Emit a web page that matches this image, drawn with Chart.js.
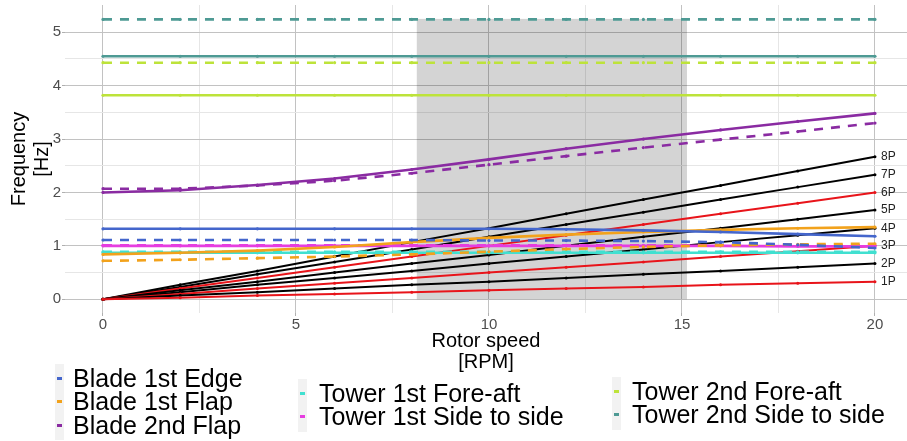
<!DOCTYPE html>
<html>
<head>
<meta charset="utf-8">
<script src="https://cdn.jsdelivr.net/npm/chart.js@4.4.1/dist/chart.umd.min.js"></script>
<style>
    html, body { margin: 0; padding: 0; background: #fff; }
    #wrap { position: relative; width: 907px; height: 441px; overflow: hidden; }
    #chart { position: absolute; left: 0; top: 0; }
    .lg { position: absolute; font-family: "Liberation Sans", Arial, sans-serif; font-size: 25px; color: #000; white-space: nowrap; }
</style>
</head>
<body>
<div id="wrap">
    <canvas id="chart" width="907" height="441"></canvas>
    <div id="legend"></div>
</div>
<script>
// rotor speed samples (RPM)
const rpm = [0, 2, 4, 6, 8, 10, 12, 14, 16, 18, 20];

const modeNames = ["Blade 1st Edge", "Blade 1st Flap", "Blade 2nd Flap", "Tower 1st Fore-aft", "Tower 1st Side to side", "Tower 2nd Fore-aft", "Tower 2nd Side to side"];

// natural frequencies [Hz], solid = case A, dashed = case B
const edge1 = [1.32, 1.32, 1.32, 1.32, 1.32, 1.32, 1.31, 1.29, 1.26, 1.22, 1.18];
const edge1B = [1.11, 1.11, 1.11, 1.11, 1.11, 1.10, 1.10, 1.09, 1.07, 1.02, 0.96];
const flap1 = [0.84, 0.87, 0.91, 0.98, 1.07, 1.15, 1.21, 1.26, 1.30, 1.33, 1.35];
const flap1B = [0.72, 0.74, 0.77, 0.80, 0.84, 0.89, 0.94, 0.98, 1.01, 1.03, 1.04];
const flap2 = [2.00, 2.04, 2.14, 2.26, 2.43, 2.62, 2.82, 3.00, 3.17, 3.33, 3.48];
const flap2B = [2.07, 2.07, 2.13, 2.22, 2.36, 2.52, 2.68, 2.84, 2.99, 3.14, 3.30];
const towerFa1 = [0.87, 0.87, 0.87, 0.87, 0.87, 0.87, 0.87, 0.87, 0.87, 0.87, 0.87];
const towerFa1B = [0.89, 0.89, 0.89, 0.89, 0.89, 0.89, 0.89, 0.89, 0.89, 0.89, 0.89];
const towerSs1 = [1.00, 1.00, 1.00, 1.00, 1.00, 1.00, 1.00, 1.00, 1.00, 0.99, 0.99];
const towerSs1B = [1.01, 1.01, 1.01, 1.01, 1.01, 1.01, 1.01, 1.01, 1.01, 1.01, 1.01];
const towerFa2 = [3.82, 3.82, 3.82, 3.82, 3.82, 3.82, 3.82, 3.82, 3.82, 3.82, 3.82];
const towerFa2B = [4.43, 4.43, 4.43, 4.43, 4.43, 4.43, 4.43, 4.43, 4.43, 4.43, 4.43];
const towerSs2 = [4.55, 4.55, 4.55, 4.55, 4.55, 4.55, 4.55, 4.55, 4.55, 4.55, 4.55];
const towerSs2B = [5.24, 5.24, 5.24, 5.24, 5.24, 5.24, 5.24, 5.24, 5.24, 5.24, 5.24];

// rotor harmonics
const harmonicNames = ["1P", "2P", "3P", "4P", "5P", "6P", "7P", "8P"];
const p1 = [0, 0.03, 0.07, 0.10, 0.13, 0.17, 0.20, 0.23, 0.27, 0.30, 0.33];
const p2 = [0, 0.07, 0.13, 0.20, 0.27, 0.33, 0.40, 0.47, 0.53, 0.60, 0.67];
const p3 = [0, 0.10, 0.20, 0.30, 0.40, 0.50, 0.60, 0.70, 0.80, 0.90, 1.00];
const p4 = [0, 0.13, 0.27, 0.40, 0.53, 0.67, 0.80, 0.93, 1.07, 1.20, 1.33];
const p5 = [0, 0.17, 0.33, 0.50, 0.67, 0.83, 1.00, 1.17, 1.33, 1.50, 1.67];
const p6 = [0, 0.20, 0.40, 0.60, 0.80, 1.00, 1.20, 1.40, 1.60, 1.80, 2.00];
const p7 = [0, 0.23, 0.47, 0.70, 0.93, 1.17, 1.40, 1.63, 1.87, 2.10, 2.33];
const p8 = [0, 0.27, 0.53, 0.80, 1.07, 1.33, 1.60, 1.87, 2.13, 2.40, 2.67];

// operating range (shaded)
const shadeRpm = [8.13, 15.13];
const shadeHz = [0, 5.25];

const xTicks = [0, 2.5, 5, 7.5, 10, 12.5, 15, 17.5, 20];
const yTicks = [0, 0.5, 1, 1.5, 2, 2.5, 3, 3.5, 4, 4.5, 5];

const legendCols = [
    ["Blade 1st Edge", "Blade 1st Flap", "Blade 2nd Flap"],
    ["Tower 1st Fore-aft", "Tower 1st Side to side"],
    ["Tower 2nd Fore-aft", "Tower 2nd Side to side"],
];

const FONT = "'Liberation Sans', Arial, sans-serif";
const modeColors = ["#4466cc", "#f2a21c", "#8a2ba2", "#40e0d0", "#e63de0", "#bde33a", "#4e9a94"];
const harmonicColors = ["#e8141a", "#000000", "#e8141a", "#000000", "#000000", "#e8141a", "#000000", "#000000"];

const solidSeries = [edge1, flap1, flap2, towerFa1, towerSs1, towerFa2, towerSs2];
const dashedSeries = [edge1B, flap1B, flap2B, towerFa1B, towerSs1B, towerFa2B, towerSs2B];
const harmonicSeries = [p1, p2, p3, p4, p5, p6, p7, p8];

function pts(arr) {
    return arr.map((v, i) => ({ x: rpm[i], y: v }));
}

const datasets = [];
modeNames.forEach((name, i) => {
    datasets.push({
        label: name, data: pts(solidSeries[i]),
        borderColor: modeColors[i], backgroundColor: modeColors[i],
        borderWidth: 2.6, pointRadius: 1.6, pointBorderWidth: 0,
    });
    datasets.push({
        label: name + " B", data: pts(dashedSeries[i]),
        borderColor: modeColors[i], backgroundColor: modeColors[i],
        borderWidth: 2.6, borderDash: [9, 8], pointRadius: 1.6, pointBorderWidth: 0,
    });
});
harmonicNames.forEach((name, i) => {
    datasets.push({
        label: name, data: pts(harmonicSeries[i]),
        borderColor: harmonicColors[i], backgroundColor: harmonicColors[i],
        borderWidth: 2, pointRadius: 1.5, pointBorderWidth: 0,
    });
});

const shadePlugin = {
    id: "shade",
    beforeDatasetsDraw(chart) {
        const { ctx, scales: { x, y } } = chart;
        const x0 = x.getPixelForValue(shadeRpm[0]);
        const x1 = x.getPixelForValue(shadeRpm[1]);
        const y0 = y.getPixelForValue(shadeHz[1]);
        const y1 = y.getPixelForValue(shadeHz[0]);
        ctx.save();
        ctx.fillStyle = "rgba(0,0,0,0.17)";
        ctx.fillRect(x0, y0, x1 - x0, y1 - y0);
        ctx.restore();
    },
};

const harmonicLabels = {
    id: "harmonicLabels",
    afterDatasetsDraw(chart) {
        const { ctx, scales: { x, y } } = chart;
        ctx.save();
        ctx.font = "12px " + FONT;
        ctx.fillStyle = "#222";
        ctx.textAlign = "left";
        ctx.textBaseline = "middle";
        harmonicNames.forEach((name, i) => {
            const s = harmonicSeries[i];
            ctx.fillText(name, x.getPixelForValue(rpm[rpm.length - 1]) + 6, y.getPixelForValue(s[s.length - 1]));
        });
        ctx.restore();
    },
};

function noPad(s) {
    s.paddingLeft = 0;
    s.paddingRight = 0;
    s.paddingTop = 0;
    s.paddingBottom = 0;
}

new Chart(document.getElementById("chart").getContext("2d"), {
    type: "line",
    data: { datasets },
    plugins: [shadePlugin, harmonicLabels],
    options: {
        responsive: false,
        animation: false,
        layout: { autoPadding: false, padding: { left: 0, right: 0, top: 5, bottom: 68 } },
        plugins: { legend: { display: false }, tooltip: { enabled: false } },
        scales: {
            x: {
                type: "linear", min: -0.984, max: 20.83,
                afterBuildTicks: (s) => { s.ticks = xTicks.map((v) => ({ value: v })); },
                afterFit: (s) => { s.height = 60; noPad(s); },
                border: { display: false },
                grid: {
                    color: (c) => (c.tick && c.tick.value % 5 === 0 ? "#c2c2c2" : "#e6e6e6"),
                    tickColor: (c) => (c.tick && c.tick.value % 5 === 0 ? "#b0b0b0" : "rgba(0,0,0,0)"),
                    tickLength: 3,
                },
                ticks: {
                    callback: (v) => (v % 5 === 0 ? v : ""),
                    color: "#4d4d4d", font: { size: 15, family: FONT },
                    padding: 0, maxRotation: 0, autoSkip: false,
                },
                title: {
                    display: true, text: ["Rotor speed", "[RPM]"], color: "#000",
                    font: { size: 20, family: FONT, lineHeight: 1.05 }, padding: 0,
                },
            },
            y: {
                type: "linear", min: -0.257, max: 5.51,
                afterBuildTicks: (s) => { s.ticks = yTicks.map((v) => ({ value: v })); },
                afterFit: (s) => { s.width = 65; noPad(s); },
                border: { display: false },
                grid: {
                    color: (c) => (c.tick && c.tick.value % 1 === 0 ? "#c2c2c2" : "#e6e6e6"),
                    tickColor: (c) => (c.tick && c.tick.value % 1 === 0 ? "#b0b0b0" : "rgba(0,0,0,0)"),
                    tickLength: 3,
                },
                ticks: {
                    callback: (v) => (v % 1 === 0 ? v : ""),
                    color: "#4d4d4d", font: { size: 15, family: FONT },
                    padding: 1, autoSkip: false,
                },
                title: {
                    display: true, text: ["Frequency", "[Hz]"], color: "#000",
                    font: { size: 20, family: FONT, lineHeight: 1.15 }, padding: { top: 8 },
                },
            },
        },
    },
});

// ggplot-style legend underneath
const legendEl = document.getElementById("legend");
const colKeyLeft = [55, 298, 612];
const colTextLeft = [73, 319, 632];
const colTop = [367, 382, 380];
const rowH = 23.3;
legendCols.forEach((col, ci) => {
    const box = document.createElement("div");
    box.style.cssText = `position:absolute;left:${colKeyLeft[ci]}px;top:${colTop[ci] - 3}px;width:9px;height:${col.length * rowH + 6}px;background:#f2f2f2;`;
    legendEl.appendChild(box);
    col.forEach((name, ri) => {
        const color = modeColors[modeNames.indexOf(name)];
        const cy = colTop[ci] + ri * rowH + rowH / 2;
        const key = document.createElement("div");
        key.style.cssText = `position:absolute;left:${colKeyLeft[ci] + 2}px;top:${cy - 1.5}px;width:5px;height:3px;background:${color};`;
        legendEl.appendChild(key);
        const t = document.createElement("div");
        t.className = "lg";
        t.style.cssText = `left:${colTextLeft[ci]}px;top:${cy - rowH / 2}px;line-height:${rowH}px;`;
        t.textContent = name;
        legendEl.appendChild(t);
    });
});
</script>
</body>
</html>
